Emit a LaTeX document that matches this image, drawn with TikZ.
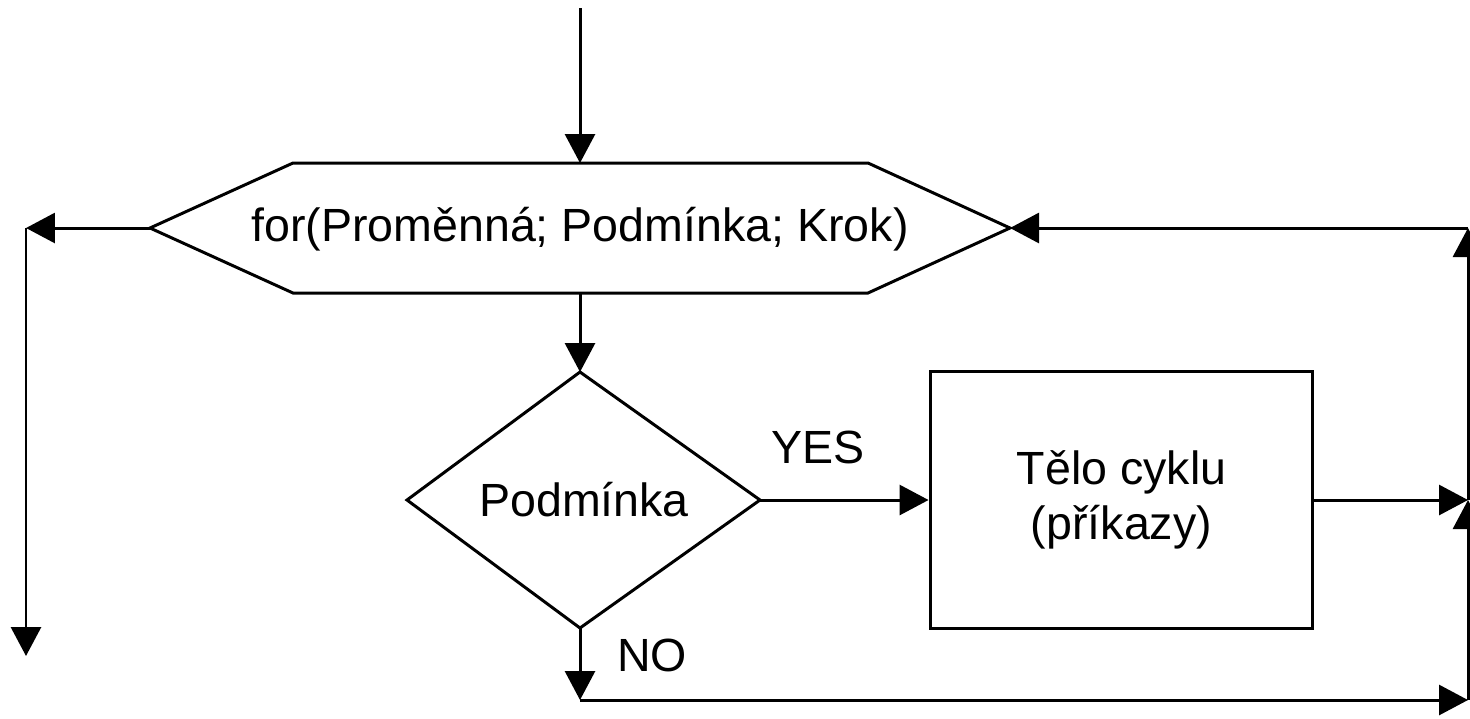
\documentclass[tikz,border=0pt]{standalone}
\usepackage{fontspec}
\setmainfont{Liberation Sans}
\usetikzlibrary{arrows.meta}
\begin{document}
\begin{tikzpicture}[x=0.02cm,y=-0.02cm,
  line width=1.7pt,
  flow/.style={-{Triangle[length=0.58cm,width=0.6cm]}},
  lbl/.style={font=\fontsize{26.5}{31}\selectfont, inner sep=0pt},
  body/.style={draw, minimum width=7.66cm, minimum height=5.14cm, inner sep=0pt,
    align=center, font=\fontsize{26.5}{31.3}\selectfont}]
  \useasboundingbox (0,0) rectangle (1470,718);

  % entry point
  \coordinate (start) at (580,8);

  % loop header (hexagon)
  \coordinate (hL)  at (150,228);
  \coordinate (hTL) at (293,163);
  \coordinate (hTR) at (868,163);
  \coordinate (hR)  at (1010,228);
  \coordinate (hBR) at (868,293);
  \coordinate (hBL) at (293,293);
  \coordinate (hT)  at (580,163);
  \coordinate (hB)  at (580,293);
  \draw (hL) -- (hTL) -- (hTR) -- (hR) -- (hBR) -- (hBL) -- cycle;
  \node[lbl] (head) at (580,229) {for(Proměnná; Podmínka; Krok)};

  % condition (diamond)
  \coordinate (dT) at (580,372);
  \coordinate (dL) at (407,500);
  \coordinate (dR) at (760,500);
  \coordinate (dB) at (580,628);
  \draw (dT) -- (dR) -- (dB) -- (dL) -- cycle;
  \node[lbl] (cond) at (584,500) {Podmínka};

  % loop body
  \node[body] (loopbody) at (1121.5,500) {Tělo cyklu\\(příkazy)};

  % exits and return path
  \coordinate (exitTurn) at (26,228);
  \coordinate (exitEnd)  at (26,656);
  \coordinate (noTurn)   at (580,700);
  \coordinate (rBot)     at (1468,700);
  \coordinate (rMid)     at (1468,500);
  \coordinate (rTop)     at (1468,228);

  \draw[flow] (start) -- (hT);
  \draw[flow] (hB) -- (dT);
  \draw[flow] (dR) -- (loopbody.west);
  \draw[flow] (loopbody.east) -- (rMid);
  \draw[flow] (dB) -- (noTurn);
  \draw[flow] (noTurn) -- (rBot);
  \draw[flow] (rBot) -- (rMid);
  \draw[flow] (rMid) -- (rTop);
  \draw[flow] (rTop) -- (hR);
  \draw[flow] (hL) -- (exitTurn);
  \draw[flow] (exitTurn) -- (exitEnd);

  % branch labels
  \node[lbl] (yes) at (818,447) {YES};
  \node[lbl] (no)  at (652,655) {NO};
\end{tikzpicture}
\end{document}
